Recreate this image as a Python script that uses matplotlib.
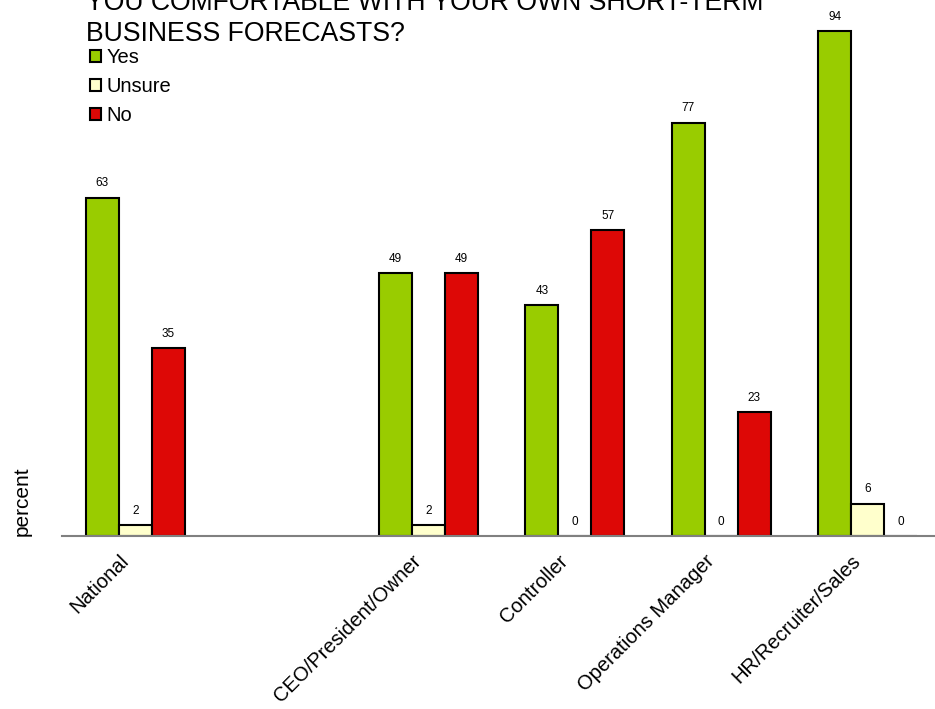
import numpy as np
import matplotlib
matplotlib.use("Agg")
import matplotlib.pyplot as plt
from matplotlib.transforms import ScaledTranslation

plt.rcParams['font.family'] = ['Liberation Sans', 'DejaVu Sans']

categories = ["National", "", "CEO/President/Owner", "Controller",
              "Operations Manager", "HR/Recruiter/Sales"]
yes = [63, np.nan, 49, 43, 77, 94]
unsure = [2, np.nan, 2, 0, 0, 6]
no = [35, np.nan, 49, 57, 23, 0]

series = ["Yes", "Unsure", "No"]
colors = ["#99CC00", "#FFFFCC", "#DD0806"]

W, H = 935, 709
fig = plt.figure(figsize=(W / 100, H / 100), dpi=100)
ax = fig.add_axes([62 / W, 173 / H, 879 / W, 537 / H])

x = np.arange(len(categories))
width = 0.225
for i, (name, vals, col) in enumerate(zip(series, [yes, unsure, no], colors)):
    pos = x + (i - 1) * width
    ax.bar(pos, vals, width, color=col, edgecolor="black", linewidth=1.5, label=name)
    for p, v in zip(pos, vals):
        if np.isnan(v):
            continue
        ax.annotate(f"{v:.0f}", (p, v), xytext=(0, 6), textcoords="offset points",
                    ha="center", va="bottom", fontsize=8.5)

ax.set_xlim(-0.5, len(categories) - 0.5)
ax.set_ylim(0, 100)
ax.set_yticks([])
ax.set_xticks(x)
ax.set_xticklabels(categories, rotation=45, ha="right", fontsize=14.5)
ax.tick_params(axis="x", length=0, pad=11)
shift = ScaledTranslation(-3 / 100, 0, fig.dpi_scale_trans)
for lab in ax.get_xticklabels():
    lab.set_transform(lab.get_transform() + shift)
for s in ["top", "right", "left"]:
    ax.spines[s].set_visible(False)
ax.spines["bottom"].set_color("#808080")
ax.spines["bottom"].set_linewidth(1.5)

fig.text(86 / W, 1 - 10 / H, "YOU COMFORTABLE WITH YOUR OWN SHORT-TERM",
         fontsize=19.2, va="baseline", ha="left")
fig.text(86 / W, 1 - 41 / H, "BUSINESS FORECASTS?",
         fontsize=19.2, va="baseline", ha="left")

fig.text(22 / W, 1 - 501 / H, "percent", rotation=90, fontsize=15,
         ha="center", va="center")

ax.legend(loc="upper left", bbox_to_anchor=(90 / W, 1 - 48 / H),
          bbox_transform=fig.transFigure, frameon=False, fontsize=14.5,
          handlelength=0.55, handleheight=0.55, handletextpad=0.25,
          labelspacing=0.5, borderpad=0, borderaxespad=0)

fig.savefig("out.png", dpi=100)
